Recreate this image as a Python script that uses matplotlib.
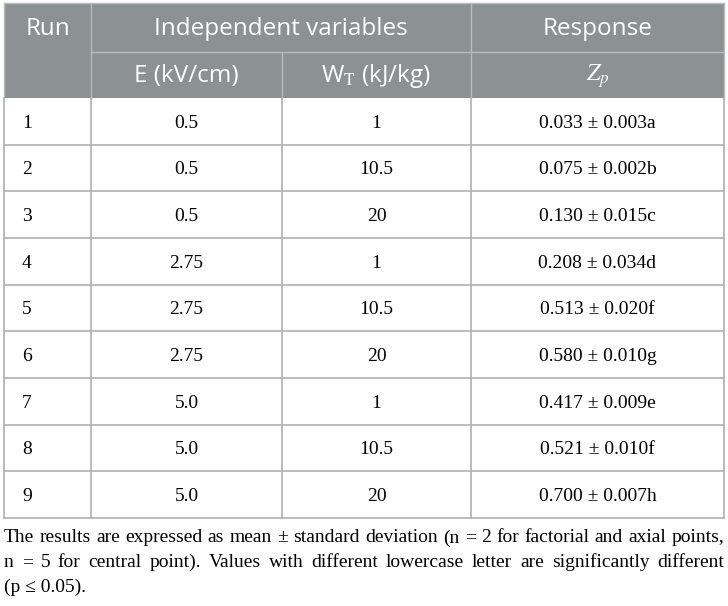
import matplotlib
matplotlib.use("Agg")
from matplotlib import pyplot as plt
from matplotlib.patches import Rectangle

# Datos de la tabla
runs = ["1", "2", "3", "4", "5", "6", "7", "8", "9"]
campo_e = ["0.5", "0.5", "0.5", "2.75", "2.75", "2.75", "5.0", "5.0", "5.0"]
energia_wt = ["1", "10.5", "20", "1", "10.5", "20", "1", "10.5", "20"]
zp_media = ["0.033", "0.075", "0.130", "0.208", "0.513", "0.580", "0.417", "0.521", "0.700"]
zp_desv = ["0.003", "0.002", "0.015", "0.034", "0.020", "0.010", "0.009", "0.010", "0.007"]
zp_letra = ["a", "b", "c", "d", "f", "g", "e", "f", "h"]

cabecera_1 = ["Run", "Independent variables", "Response"]
cabecera_2 = ["E (kV/cm)", r"W$_\mathrm{T}$ (kJ/kg)", r"$Z_p$"]

nota = [
    "The results are expressed as mean \u00b1 standard deviation (n = 2 for factorial and axial points,",
    "n = 5 for central point). Values with different lowercase letter are significantly different",
    "(p \u2264 0.05).",
]

W, H = 728, 606
plt.rcParams["mathtext.fontset"] = "stix"
fig = plt.figure(figsize=(W / 100, H / 100), dpi=100)
ax = fig.add_axes([0, 0, 1, 1])
ax.set_xlim(0, W)
ax.set_ylim(H, 0)
ax.axis("off")

gris = "#8c9193"
linea_cab = "#b7bbbd"
linea = "#b0b0b0"
sans = "Open Sans"
serif = "Liberation Serif"

x0, x1, x2, x3, x4 = 4, 91, 282, 471, 724
y_top, y_mid, y_body = 3, 52, 98
alto_fila = (518 - y_body) / len(runs)

# Fondo de cabecera
ax.add_patch(Rectangle((x0, y_top), x4 - x0, y_body - y_top, color=gris, lw=0))
ax.plot([x1, x4], [y_mid, y_mid], color=linea_cab, lw=1)
ax.plot([x2, x2], [y_mid, y_body], color=linea_cab, lw=1)
ax.plot([x1, x1], [y_top, y_body], color=linea_cab, lw=1)
ax.plot([x3, x3], [y_top, y_body], color=linea_cab, lw=1)

fs_cab = 17.5
y_c1 = (y_top + y_mid) / 2 + 1.5
y_c2 = (y_mid + y_body) / 2 + 1
ax.text((x0 + x1) / 2, y_c1, cabecera_1[0], color="white", fontsize=fs_cab,
        family=sans, ha="center", va="center")
ax.text((x1 + x3) / 2, y_c1, cabecera_1[1], color="white", fontsize=fs_cab,
        family=sans, ha="center", va="center")
ax.text((x3 + x4) / 2, y_c1, cabecera_1[2], color="white", fontsize=fs_cab,
        family=sans, ha="center", va="center")
centros = [(x1 + x2) / 2, (x2 + x3) / 2, (x3 + x4) / 2]
for cx, txt in zip(centros, cabecera_2):
    ax.text(cx, y_c2, txt, color="white", fontsize=fs_cab,
            family=sans, ha="center", va="center")

# Cuerpo
y_fin = y_body + alto_fila * len(runs)
fs = 14
for i in range(len(runs)):
    yc = y_body + alto_fila * (i + 0.5) + 2
    ax.text(22, yc, runs[i], fontsize=fs, family=serif, ha="left", va="center")
    ax.text(centros[0], yc, campo_e[i], fontsize=fs, family=serif, ha="center", va="center")
    ax.text(centros[1], yc, energia_wt[i], fontsize=fs, family=serif, ha="center", va="center")
    ax.text(centros[2], yc, f"{zp_media[i]} \u00b1 {zp_desv[i]}{zp_letra[i]}", fontsize=fs,
            family=serif, ha="center", va="center")
    if i > 0:
        yl = y_body + alto_fila * i
        ax.plot([x0, x4], [yl, yl], color=linea, lw=1.2)

for xl in [x0, x1, x2, x3, x4]:
    ax.plot([xl, xl], [y_body, y_fin], color=linea, lw=1.2)
ax.plot([x0, x4], [y_fin, y_fin], color=linea, lw=1.2)
ax.plot([x0, x4], [y_top, y_top], color=linea_cab, lw=1)
ax.plot([x0, x0], [y_top, y_body], color=linea_cab, lw=1)
ax.plot([x4, x4], [y_top, y_body], color=linea_cab, lw=1)

# Nota al pie, justificada
fig.canvas.draw()
renderer = fig.canvas.get_renderer()
fs_nota = 14
y_nota = [538, 562.5, 587]
for j, linea_txt in enumerate(nota):
    if j == len(nota) - 1:
        ax.text(x0, y_nota[j], linea_txt, fontsize=fs_nota, family=serif, ha="left", va="center")
        continue
    palabras = linea_txt.split(" ")
    objs = [ax.text(0, y_nota[j], p, fontsize=fs_nota, family=serif, ha="left", va="center")
            for p in palabras]
    anchos = [o.get_window_extent(renderer).width for o in objs]
    hueco = (x4 - x0 - sum(anchos)) / (len(palabras) - 1)
    x = x0
    for o, a in zip(objs, anchos):
        o.set_x(x)
        x += a + hueco

fig.savefig("out.png", dpi=100)
